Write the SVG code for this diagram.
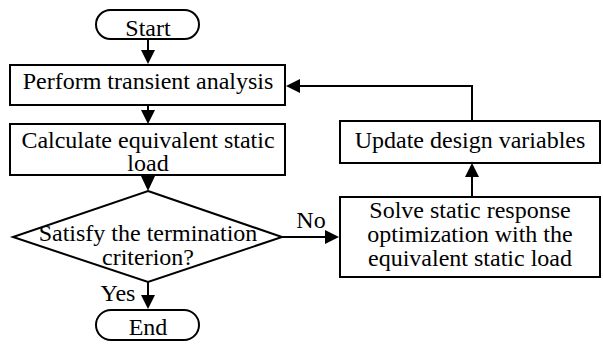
<svg xmlns="http://www.w3.org/2000/svg" width="603" height="344" viewBox="0 0 603 344">
<style>
.s{fill:#fff;stroke:#000;stroke-width:2}
.c{fill:none;stroke:#000;stroke-width:2}
text{font-family:"Liberation Serif","Times New Roman",serif;font-size:24px;fill:#000;text-anchor:middle}
</style>
<defs>
<marker id="ah" markerWidth="8" markerHeight="8" refX="7" refY="4" orient="auto" markerUnits="userSpaceOnUse" viewBox="0 0 8 8">
<path d="M0,0 L8,4 L0,8 Z" fill="#000"/>
</marker>
</defs>
<rect width="603" height="344" fill="#fff"/>
<g id="connectors">
<path class="c" d="M148,39 V50" />
<path d="M141,50 L155,50 L148,64 Z" fill="#000"/>
<path class="c" d="M148,105 V110" />
<path d="M141,110 L155,110 L148,124 Z" fill="#000"/>
<path class="c" d="M148,175 V178" />
<path d="M141,176 L155,176 L148,191 Z" fill="#000"/>
<path class="c" d="M148,282 V296" />
<path d="M141,295 L155,295 L148,309 Z" fill="#000"/>
<path class="c" d="M282,237 H326" />
<path d="M325,230 L325,244 L339,237 Z" fill="#000"/>
<path class="c" d="M472,197 V177" />
<path d="M465,177 L479,177 L472,163 Z" fill="#000"/>
<path class="c" d="M472,121 V86 H299" />
<path d="M300,79 L300,93 L286,86 Z" fill="#000"/>
<text x="118" y="301">Yes</text>
<text x="311" y="228">No</text>
</g>
<g id="start">
<rect class="s" x="96" y="10" width="103" height="29" rx="14.5"/>
<text x="148" y="36">Start</text>
</g>
<g id="transient">
<rect class="s" x="10" y="65" width="275" height="40"/>
<text x="148" y="89">Perform transient analysis</text>
</g>
<g id="calc">
<rect class="s" x="10" y="124" width="275" height="51"/>
<text x="148" y="148">Calculate equivalent static</text>
<text x="148" y="171">load</text>
</g>
<g id="decision">
<path class="s" d="M148,191 L282,237 L148,282 L13,237 Z"/>
<text x="148" y="241">Satisfy the termination</text>
<text x="148" y="265">criterion?</text>
</g>
<g id="end">
<rect class="s" x="96" y="310" width="103" height="30" rx="15"/>
<text x="148" y="335">End</text>
</g>
<g id="update">
<rect class="s" x="340" y="121" width="260" height="42"/>
<text x="470" y="148">Update design variables</text>
</g>
<g id="solve">
<rect class="s" x="340" y="197" width="260" height="80"/>
<text x="470" y="218">Solve static response</text>
<text x="470" y="242">optimization with the</text>
<text x="470" y="266">equivalent static load</text>
</g>
</svg>
